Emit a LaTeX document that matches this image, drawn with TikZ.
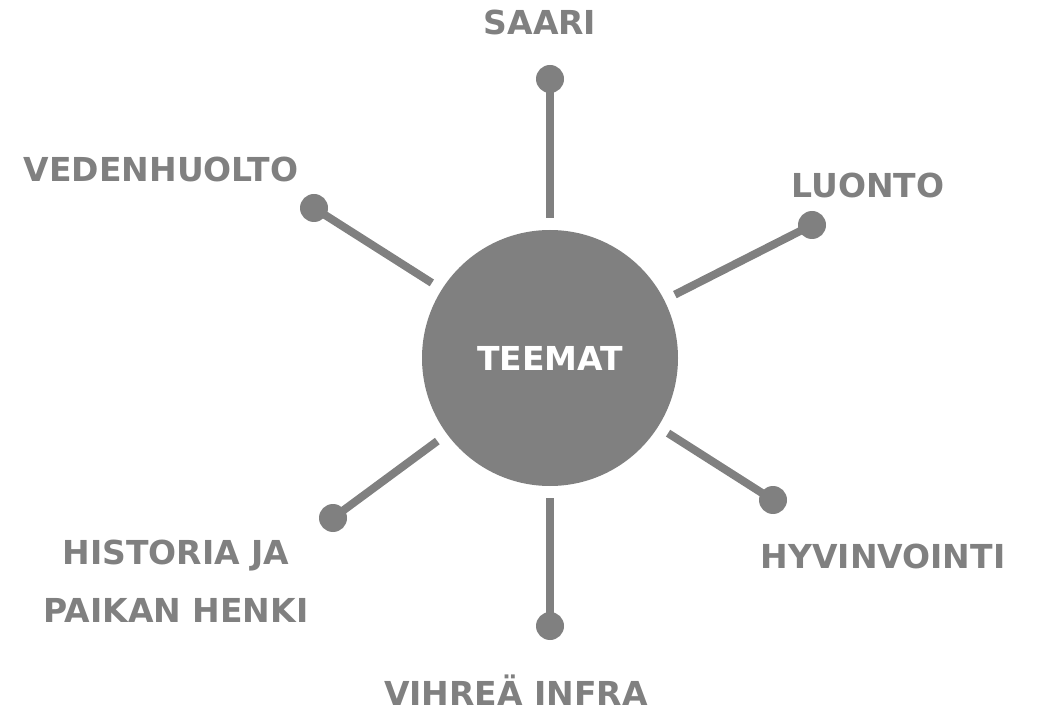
\documentclass[tikz,border=0pt]{standalone}
\usepackage{fontspec}
\setmainfont{DejaVu Sans}
\definecolor{themegray}{HTML}{808080}

\tikzstyle{theme} = [font=\fontsize{33}{58}\selectfont\bfseries, text=themegray, align=center, anchor=base, inner sep=0pt]
\tikzstyle{hub} = [circle, fill=themegray, minimum size=256pt, inner sep=0pt, outer sep=0pt, font=\fontsize{33}{38}\selectfont\bfseries, text=white]
\tikzstyle{knob} = [circle, fill=themegray, minimum size=28pt, inner sep=0pt]
\tikzstyle{spoke} = [draw=themegray, line width=8pt, shorten >=12pt]

\begin{document}
\begin{tikzpicture}[x=1pt, y=-1pt]
	\useasboundingbox (0,0) rectangle (1037,711);

	\node (teemat) [hub] at (550,358) {TEEMAT};

	\node (saariDot) [knob] at (550,79) {};
	\node (vesiDot) [knob] at (314,208) {};
	\node (luontoDot) [knob] at (812,225) {};
	\node (hyvinDot) [knob] at (773,500) {};
	\node (infraDot) [knob] at (550,626) {};
	\node (historiaDot) [knob] at (333,518) {};

	\node (saari) [theme] at (540,35) {SAARI};
	\node (vesi) [theme] at (161,182) {VEDENHUOLTO};
	\node (luonto) [theme] at (868,198) {LUONTO};
	\node (hyvin) [theme] at (883,568) {HYVINVOINTI};
	\node (infra) [theme] at (516,705) {VIHREÄ INFRA};
	\node (historia) [theme] at (176,622) {HISTORIA JA\\PAIKAN HENKI};

	\draw [spoke] (saariDot.center) -- (teemat);
	\draw [spoke] (vesiDot.center) -- (teemat);
	\draw [spoke] (luontoDot.center) -- (teemat);
	\draw [spoke] (hyvinDot.center) -- (teemat);
	\draw [spoke] (infraDot.center) -- (teemat);
	\draw [spoke] (historiaDot.center) -- (teemat);

\end{tikzpicture}
\end{document}
